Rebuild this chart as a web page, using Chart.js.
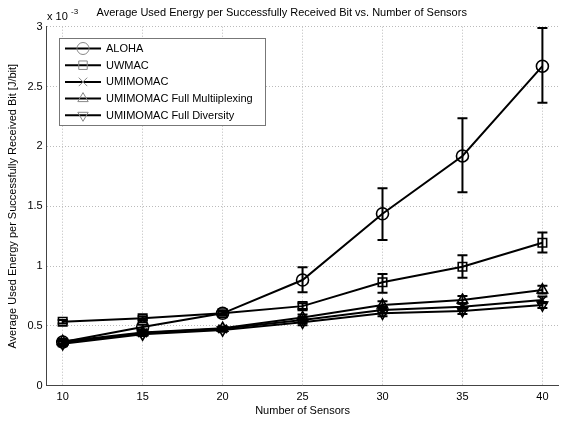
<!DOCTYPE html>
<html>
<head>
<meta charset="utf-8">
<script src="https://cdn.jsdelivr.net/npm/chart.js@4.4.1/dist/chart.umd.min.js"></script>
<style>
  html, body { margin: 0; padding: 0; background: #fff; overflow: hidden; }
  #wrap { width: 566px; height: 423px; }
</style>
</head>
<body>
<div id="wrap"><canvas id="energyChart" width="566" height="423"></canvas></div>
<script>
// values in units of 1e-3 J/bit
const sensors = [10, 15, 20, 25, 30, 35, 40];
const xTicks = [10, 15, 20, 25, 30, 35, 40];
const yTicks = [0, 0.5, 1, 1.5, 2, 2.5, 3];

const aloha = [0.365, 0.49, 0.605, 0.883, 1.437, 1.92, 2.67];
const alohaLo = [0.35, 0.47, 0.585, 0.78, 1.217, 1.616, 2.364];
const alohaHi = [0.38, 0.51, 0.625, 0.99, 1.649, 2.234, 2.99];

const uwmac = [0.535, 0.563, 0.605, 0.665, 0.864, 0.994, 1.195];
const uwmacLo = [0.52, 0.55, 0.59, 0.64, 0.777, 0.902, 1.114];
const uwmacHi = [0.55, 0.58, 0.62, 0.69, 0.933, 1.09, 1.28];

const umimo = [0.36, 0.44, 0.475, 0.55, 0.632, 0.66, 0.716];
const umimoLo = [0.34, 0.425, 0.46, 0.525, 0.605, 0.63, 0.69];
const umimoHi = [0.38, 0.455, 0.49, 0.575, 0.66, 0.69, 0.745];

const fullMux = [0.37, 0.445, 0.48, 0.57, 0.674, 0.716, 0.80];
const fullMuxLo = [0.35, 0.43, 0.465, 0.545, 0.645, 0.685, 0.77];
const fullMuxHi = [0.39, 0.46, 0.495, 0.595, 0.705, 0.75, 0.835];

const fullDiv = [0.35, 0.43, 0.465, 0.53, 0.605, 0.625, 0.674];
const fullDivLo = [0.33, 0.415, 0.45, 0.505, 0.58, 0.6, 0.65];
const fullDivHi = [0.37, 0.445, 0.48, 0.555, 0.63, 0.65, 0.70];

const FONT = 'Arial, "Liberation Sans", Helvetica, sans-serif';

function series(label, values, lo, hi, style, rotation) {
    return {
        label: label,
        data: sensors.map((x, i) => ({ x: x, y: values[i] })),
        errLo: lo,
        errHi: hi,
        borderColor: '#000',
        backgroundColor: 'rgba(0,0,0,0)',
        borderWidth: 2,
        pointStyle: style,
        pointRotation: rotation || 0,
        pointRadius: 6,
        pointBorderWidth: 1.6,
        pointBorderColor: '#000',
        pointBackgroundColor: 'rgba(0,0,0,0)',
        tension: 0,
        fill: false
    };
}

// vertical error bars with caps
const errorBars = {
    id: 'errorBars',
    afterDatasetsDraw(chart) {
        const ctx = chart.ctx;
        const xs = chart.scales.x, ys = chart.scales.y;
        ctx.save();
        ctx.strokeStyle = '#000';
        ctx.lineWidth = 2;
        chart.data.datasets.forEach(ds => {
            ds.data.forEach((p, i) => {
                const px = xs.getPixelForValue(p.x);
                const top = ys.getPixelForValue(ds.errHi[i]);
                const bot = ys.getPixelForValue(ds.errLo[i]);
                ctx.beginPath();
                ctx.moveTo(px, top); ctx.lineTo(px, bot);
                ctx.moveTo(px - 5, top); ctx.lineTo(px + 5, top);
                ctx.moveTo(px - 5, bot); ctx.lineTo(px + 5, bot);
                ctx.stroke();
            });
        });
        ctx.restore();
    }
};

// MATLAB style legend box and the exponent label
const boxLegend = {
    id: 'boxLegend',
    afterDraw(chart) {
        const ctx = chart.ctx;
        const x0 = 59.5, y0 = 38.5, w = 206, h = 87;
        ctx.save();
        ctx.fillStyle = '#fff';
        ctx.fillRect(x0, y0, w, h);
        ctx.strokeStyle = '#777';
        ctx.lineWidth = 1;
        ctx.strokeRect(x0, y0, w, h);
        ctx.font = '11px ' + FONT;
        ctx.textBaseline = 'middle';
        chart.data.datasets.forEach((ds, i) => {
            const y = 48.5 + i * 16.7;
            ctx.strokeStyle = '#000';
            ctx.lineWidth = 2;
            ctx.beginPath();
            ctx.moveTo(65, y); ctx.lineTo(101, y);
            ctx.stroke();
            ctx.strokeStyle = '#888';
            ctx.lineWidth = 1;
            ctx.fillStyle = 'rgba(0,0,0,0)';
            Chart.helpers.drawPoint(ctx, {
                pointStyle: ds.pointStyle,
                rotation: ds.pointRotation,
                radius: 6,
                borderWidth: 1
            }, 83, y);
            ctx.fillStyle = '#000';
            ctx.fillText(ds.label, 106, y + 0.5);
        });
        ctx.fillStyle = '#000';
        ctx.font = '11px ' + FONT;
        ctx.textBaseline = 'alphabetic';
        ctx.fillText('x 10', 47, 20);
        ctx.font = '8px ' + FONT;
        ctx.fillText('-3', 71, 14);
        ctx.restore();
    }
};

new Chart(document.getElementById('energyChart').getContext('2d'), {
    type: 'line',
    data: {
        datasets: [
            series('ALOHA', aloha, alohaLo, alohaHi, 'circle'),
            series('UWMAC', uwmac, uwmacLo, uwmacHi, 'rect'),
            series('UMIMOMAC', umimo, umimoLo, umimoHi, 'crossRot'),
            series('UMIMOMAC Full Multiiplexing', fullMux, fullMuxLo, fullMuxHi, 'triangle'),
            series('UMIMOMAC Full Diversity', fullDiv, fullDivLo, fullDivHi, 'triangle', 180)
        ]
    },
    options: {
        responsive: false,
        animation: false,
        events: [],
        layout: { padding: { left: 0, right: 2.5, top: 0, bottom: 0 } },
        plugins: {
            legend: { display: false },
            tooltip: { enabled: false },
            title: {
                display: true,
                text: 'Average Used Energy per Successfully Received Bit vs. Number of Sensors',
                color: '#000',
                font: { family: FONT, size: 11, weight: 'normal', lineHeight: 1.2 },
                padding: { top: 6, bottom: 7.5 }
            }
        },
        scales: {
            x: {
                type: 'linear',
                min: 9,
                max: 41,
                afterBuildTicks: s => { s.ticks = xTicks.map(v => ({ value: v })); },
                afterFit: s => { s.height = 37.3; },
                grid: { color: '#bbb', drawTicks: false },
                border: { display: true, color: '#444', width: 1, dash: [1, 2] },
                ticks: { color: '#000', padding: 5, maxRotation: 0, font: { family: FONT, size: 11 } },
                title: {
                    display: true,
                    text: 'Number of Sensors',
                    color: '#000',
                    font: { family: FONT, size: 11 },
                    padding: { top: 0, bottom: 5 }
                }
            },
            y: {
                type: 'linear',
                min: 0,
                max: 3,
                afterBuildTicks: s => { s.ticks = yTicks.map(v => ({ value: v })); },
                afterFit: s => { s.width = 46.7; },
                grid: { color: '#bbb', drawTicks: false },
                border: { display: true, color: '#444', width: 1, dash: [1, 2] },
                ticks: {
                    color: '#000',
                    padding: 4,
                    font: { family: FONT, size: 11 },
                    callback: v => String(v)
                },
                title: {
                    display: true,
                    text: 'Average Used Energy per Successfully Received Bit [J/bit]',
                    color: '#000',
                    font: { family: FONT, size: 11 },
                    padding: { top: 6, bottom: 0 }
                }
            }
        }
    },
    plugins: [errorBars, boxLegend]
});
</script>
</body>
</html>
